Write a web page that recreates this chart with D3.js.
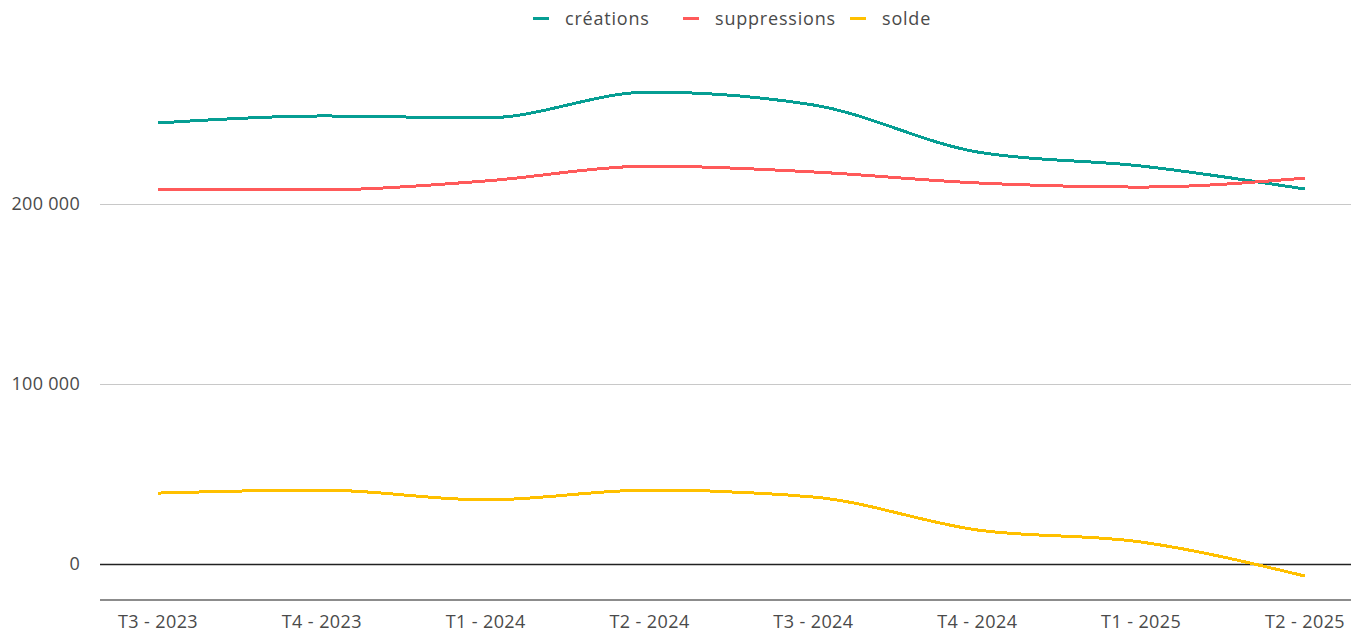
<!DOCTYPE html>
<html><head><meta charset="utf-8">
<script src="https://cdn.jsdelivr.net/npm/d3@7"></script>
<style>
body{margin:0;background:#fff;}
svg{display:block;font-family:"Open Sans",sans-serif;}
</style></head>
<body><svg id="c" width="1351" height="634"></svg>
<script>
const categories = ["T3 - 2023","T4 - 2023","T1 - 2024","T2 - 2024","T3 - 2024","T4 - 2024","T1 - 2025","T2 - 2025"];
const creations = [245000,248900,247800,262200,255000,228900,221100,208300];
const suppressions = [207800,207800,212800,221100,217800,211700,209400,214400];
const solde = [39400,41100,35600,41100,37200,18900,12200,-6700];
const yTicks = [0,100000,200000];
const seriesNames = ["créations","suppressions","solde"];
const colors = ["#069e93","#ff5a5a","#ffc000"];

const svg = d3.select("#c");
const x = d3.scalePoint().domain(categories).range([158,1305]);
const y = d3.scaleLinear().domain([0,200000]).range([564,204]);
const fmt = v => d3.format(",")(v).replace(/,/g," ");

// grid
svg.append("g").selectAll("line").data(yTicks).join("line")
  .attr("x1",100).attr("x2",1351)
  .attr("y1",d=>Math.round(y(d))+0.5).attr("y2",d=>Math.round(y(d))+0.5)
  .attr("stroke",d=>d===0?"#222":"#c8c8c8").attr("stroke-width",d=>d===0?1.5:1);
svg.append("g").selectAll("text").data(yTicks).join("text")
  .attr("x",80).attr("y",d=>y(d)).attr("dy","0.35em").attr("text-anchor","end")
  .attr("fill","#4a4a4a").attr("font-size",18).attr("letter-spacing",0.3).text(fmt);

// bottom axis line
svg.append("line").attr("x1",100).attr("x2",1351).attr("y1",y(-20000)).attr("y2",y(-20000))
  .attr("stroke","#8c8c8c").attr("stroke-width",2);
svg.append("g").selectAll("text").data(categories).join("text")
  .attr("x",d=>x(d)).attr("y",622).attr("dy","0.35em").attr("text-anchor","middle")
  .attr("fill","#4a4a4a").attr("font-size",18).attr("letter-spacing",0.4).text(d=>d);

const line = d3.line().x((d,i)=>x(categories[i])).y(d=>y(d)).curve(d3.curveMonotoneX);
[creations,suppressions,solde].forEach((s,k)=>{
  svg.append("path").datum(s).attr("d",line).attr("fill","none")
    .attr("stroke",colors[k]).attr("stroke-width",3).attr("shape-rendering","crispEdges");
});

// legend
const legX = [533,683,850];
const lg = svg.append("g");
seriesNames.forEach((n,i)=>{
  lg.append("line").attr("x1",legX[i]).attr("x2",legX[i]+16).attr("y1",18.5).attr("y2",18.5)
    .attr("stroke",colors[i]).attr("stroke-width",3);
  lg.append("text").attr("x",legX[i]+32).attr("y",19).attr("dy","0.35em")
    .attr("fill","#4a4a4a").attr("font-size",18).attr("letter-spacing",0.8).text(n);
});
</script></body></html>
